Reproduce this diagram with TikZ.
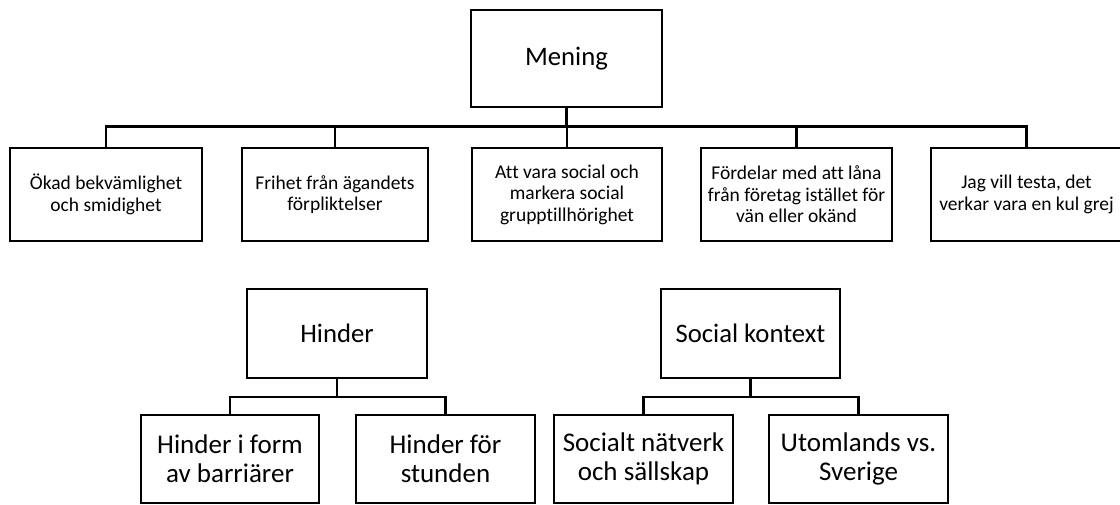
\documentclass[tikz,border=0pt]{standalone}
\usepackage{fontspec}
\setmainfont{Carlito}[RawFeature=-liga]
\begin{document}
\begin{tikzpicture}[x=1pt,y=-1pt,
  box/.style={draw=black,line width=2.7pt,fill=white,rectangle,inner sep=0pt,align=center,text=black},
  head/.style={box,font=\fontsize{26.7}{29}\selectfont},
  small/.style={box,font=\fontsize{19.5}{21.5}\selectfont},
  big/.style={box,font=\fontsize{27}{29}\selectfont},
  conn/.style={draw=black,line width=2.3pt}]
\useasboundingbox (0,0) rectangle (1120,504);
\clip (0,0) rectangle (1120,504);
% top tree
\node[head,minimum width=191pt,minimum height=97pt] (m) at (566.5,58.5) {Mening};
\node[small,minimum width=192pt,minimum height=93pt] (c1) at (106,194.5) {Ökad bekvämlighet\\och smidighet};
\node[small,minimum width=186pt,minimum height=93pt] (c2) at (335,194.5) {Frihet från ägandets\\förpliktelser};
\node[small,minimum width=190pt,minimum height=93pt] (c3) at (567,194.5) {Att vara social och\\markera social\\grupptillhörighet};
\node[small,minimum width=191pt,minimum height=93pt] (c4) at (796.5,194.5) {Fördelar med att låna\\från företag istället för\\vän eller okänd};
\node[small,minimum width=191pt,minimum height=93pt] (c5) at (1026.5,194.5) {Jag vill testa, det\\verkar vara en kul grej};
\coordinate (mb) at (566.5,126.5);
\draw[conn] (m.south) -- (mb);
\foreach \c in {c1,c2,c3,c4,c5}{\draw[conn] (mb) -| (\c.north);}
% Hinder tree
\node[head,minimum width=180pt,minimum height=89pt] (h) at (337,333.5) {Hinder};
\node[big,minimum width=178pt,minimum height=88pt] (h1) at (230,459) {Hinder i form\\av barriärer};
\node[big,minimum width=179pt,minimum height=88pt] (h2) at (445.5,459) {Hinder för\\stunden};
\coordinate (hb) at (337,397);
\draw[conn] (h.south) -- (hb);
\foreach \c in {h1,h2}{\draw[conn] (hb) -| (\c.north);}
% Social kontext tree
\node[head,minimum width=179pt,minimum height=89pt] (s) at (750.5,333.5) {Social kontext};
\node[big,minimum width=179pt,minimum height=88pt] (s1) at (643.5,459) {Socialt nätverk\\och sällskap};
\node[big,minimum width=179pt,minimum height=88pt] (s2) at (858.5,459) {Utomlands vs.\\Sverige};
\coordinate (sb) at (750.5,397);
\draw[conn] (s.south) -- (sb);
\foreach \c in {s1,s2}{\draw[conn] (sb) -| (\c.north);}
\end{tikzpicture}
\end{document}
